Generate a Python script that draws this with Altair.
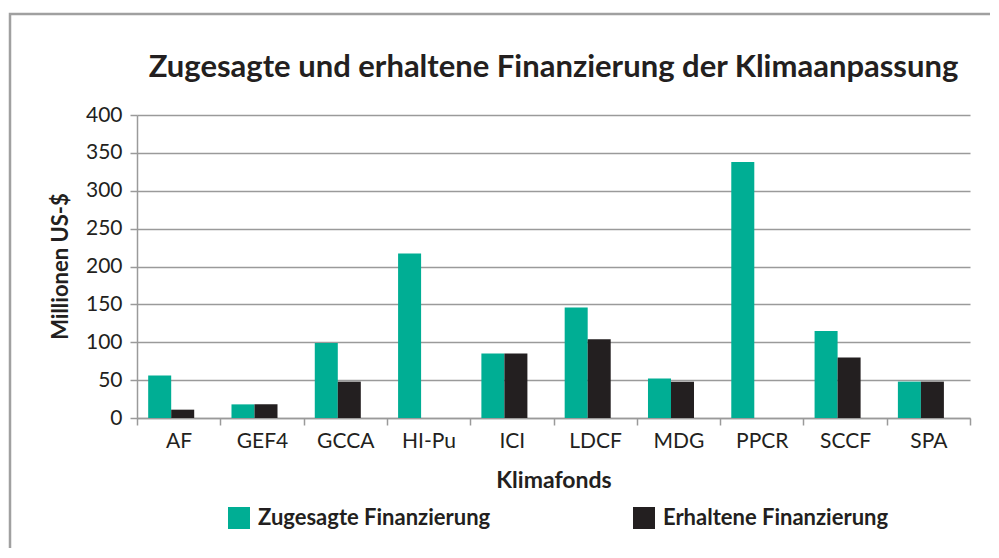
import altair as alt
import pandas as pd

categories = ["AF", "GEF4", "GCCA", "HI-Pu", "ICI", "LDCF", "MDG", "PPCR", "SCCF", "SPA"]
zugesagt = [56, 18, 99, 217, 85, 146, 52, 338, 115, 48]
erhalten = [11, 18, 48, 0, 85, 104, 48, 0, 80, 48]
series = ["Zugesagte Finanzierung", "Erhaltene Finanzierung"]
colors = ["#00ae94", "#231f20"]
y_ticks = [0, 50, 100, 150, 200, 250, 300, 350, 400]

rows = []
for c, z, e in zip(categories, zugesagt, erhalten):
    rows.append({"Fonds": c, "Serie": series[0], "Wert": z})
    rows.append({"Fonds": c, "Serie": series[1], "Wert": e})
df = pd.DataFrame(rows)

FONT = "Lato"
TXT = "#231f20"
GRID = "#9a9a9a"

bars = alt.Chart(df).mark_bar().encode(
    x=alt.X("Fonds:N", sort=categories,
            scale=alt.Scale(paddingInner=0, paddingOuter=0),
            axis=alt.Axis(title="Klimafonds", labelAngle=0, tickBand="extent",
                          tickSize=7, tickColor=GRID, tickWidth=1.5,
                          domainColor=GRID, domainWidth=1.5,
                          labelFontSize=21, labelPadding=5, labelColor=TXT, labelFont=FONT,
                          titleFontSize=23, titleFont=FONT, titleFontWeight="bold",
                          titleColor=TXT, titlePadding=18, grid=False)),
    xOffset=alt.XOffset("Serie:N", sort=series,
                        scale=alt.Scale(paddingInner=0, paddingOuter=0.81, align=0.3)),
    y=alt.Y("Wert:Q", scale=alt.Scale(domain=[0, 400], nice=False),
            axis=alt.Axis(title="Millionen US-$", values=y_ticks,
                          tickSize=7, tickColor=GRID, tickWidth=1.5,
                          domainColor=GRID, domainWidth=1.5,
                          gridColor=GRID, gridWidth=1.5,
                          labelFontSize=21, labelPadding=8, labelColor=TXT, labelFont=FONT,
                          titleFontSize=22, titleFont=FONT, titleFontWeight="bold",
                          titleColor=TXT, titleAngle=-90, titleX=-77, titleY=151,
                          titleBaseline="middle", titleAlign="center")),
    color=alt.Color("Serie:N", sort=series,
                    scale=alt.Scale(domain=series, range=colors),
                    legend=alt.Legend(title=None, orient="none", legendX=91, legendY=392,
                                      direction="horizontal", columns=2, padding=0,
                                      columnPadding=142, symbolType="square",
                                      symbolSize=484, symbolStrokeWidth=0,
                                      symbolOpacity=1, labelOffset=8,
                                      labelFontSize=22, labelFont=FONT,
                                      labelFontWeight="bold", labelColor=TXT,
                                      labelLimit=400)),
)

frame = alt.Chart(pd.DataFrame({"k": [0]})).mark_rect(
    fill=None, stroke="#a0a0a0", strokeWidth=2.5
).encode(x=alt.value(-127), x2=alt.value(900), y=alt.value(-101), y2=alt.value(460))

chart = alt.layer(frame, bars).properties(
    width=833, height=303,
    autosize=alt.AutoSizeParams(type="none"),
    padding={"left": 129, "top": 107, "right": 20, "bottom": 130},
    title=alt.Title("Zugesagte und erhaltene Finanzierung der Klimaanpassung",
                    fontSize=31, font=FONT, fontWeight="bold", color=TXT,
                    anchor="middle", baseline="alphabetic", offset=-95),
).configure_view(stroke=None)

chart.save("out.html", embed_options={"renderer": "svg", "actions": False})
